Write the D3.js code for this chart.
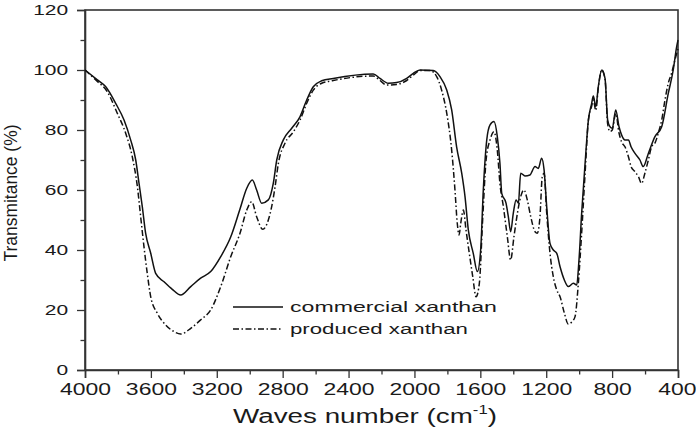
<!DOCTYPE html>
<html>
<head>
<meta charset="utf-8">
<script src="https://cdn.jsdelivr.net/npm/d3@7"></script>
<style>
  html, body { margin: 0; padding: 0; background: #fff; }
  svg { display: block; }
  text { font-family: "Liberation Sans", Arial, sans-serif; fill: #1a1a1a; }
</style>
</head>
<body>
<svg id="chart" width="696" height="434"></svg>
<script>
// ---- data ----
const xTickValues = [4000, 3600, 3200, 2800, 2400, 2000, 1600, 1200, 800, 400];
const xMinorTicks = [3800, 3400, 3000, 2600, 2200, 1800, 1400, 1000, 600];
const yTickValues = [0, 20, 40, 60, 80, 100, 120];
const yMinorTicks = [10, 30, 50, 70, 90, 110];
const seriesNames = ["commercial xanthan", "produced xanthan"];

const commercialWn = [4000,3925,3874,3814,3763,3723,3692,3672,3652,3632,3601,3571,3520,3470,3419,3358,3298,3237,3176,3115,3060,3018,2984,2958,2927,2887,2857,2836,2796,2745,2695,2654,2614,2563,2493,2250,2209,2159,2108,2047,2007,1966,1886,1845,1804,1774,1744,1713,1693,1673,1643,1618,1598,1582,1561,1541,1517,1497,1481,1470,1444,1430,1416,1400,1383,1369,1355,1329,1299,1268,1248,1228,1213,1197,1177,1157,1136,1116,1090,1066,1035,1015,1001,985,964,944,924,914,899,884,863,843,827,813,799,778,758,742,722,701,685,661,631,611,580,540,499,459,429,408,400];
const commercialT = [100,96.7,94.4,88.9,83.3,76.7,70,62.2,54.4,45.6,38.9,32.2,29.4,26.9,25,27.8,30.6,32.8,37.8,44.4,53.5,60.6,63.3,60,55.6,56.7,62.2,70,76.7,80.6,84.4,90,94.4,96.4,97.2,98.7,97.2,95.6,95.8,97.2,98.9,100,99.8,97.8,93.3,86.7,74.4,65.6,57.8,46.7,38.9,32.8,40,60,76.7,81.7,82.8,77.8,68.9,58.9,55.6,51.1,46.1,52.2,56.7,55.6,65.6,64.7,65,67.8,67.2,70.6,66.7,54.4,42.2,40,38.9,34.4,30,27.8,28.9,28.3,36.7,52.2,68.9,83.3,88.9,91.3,87.8,94.4,100,97.2,83.3,81.1,80.6,86.7,81.1,78.3,76.7,76.7,74.4,72.2,70,67.8,72.2,77.8,81.1,92.2,100,107.8,110];

const producedWn = [4000,3925,3865,3804,3753,3713,3682,3662,3642,3622,3601,3561,3510,3460,3419,3358,3298,3237,3176,3115,3059,3018,2988,2958,2921,2887,2867,2846,2826,2786,2735,2695,2654,2614,2563,2493,2250,2209,2169,2108,2047,2007,1966,1905,1865,1835,1804,1774,1754,1740,1729,1719,1703,1687,1667,1646,1626,1606,1585,1565,1541,1517,1497,1481,1460,1436,1416,1396,1375,1355,1335,1315,1294,1268,1254,1238,1224,1213,1197,1177,1157,1136,1116,1090,1066,1045,1025,1005,985,964,944,924,914,899,884,863,843,827,813,799,778,758,742,722,701,685,661,640,621,601,580,560,540,520,499,479,459,439,419,400];
const producedT = [100,96.2,92.8,85.6,78.9,71.1,61.1,51.1,41.1,32.2,24.4,18.9,15,12.8,12,13.9,16.7,20,27.8,37.8,45.6,53.3,56.1,51.1,46.9,50,54.4,61.1,68.9,75.6,79.4,83.3,88.9,93.3,95.6,96.5,98,96.5,95,95.2,96.5,98.3,99.8,99.8,97.8,93.3,85.6,73.3,60,48.9,45,48.9,53.3,46.7,38.9,31.1,24.4,28.9,51.1,70,76.7,79.4,73.3,62.2,54.4,44.4,36.7,44.4,52.2,57.8,60,56.7,51.1,46.1,45.6,51.1,64.4,65.6,52.2,38.9,31.1,26.7,24.4,19,15.3,16,17.8,28.9,45.6,65.6,83.3,88,90,86.5,94,100,97,82,79.5,80,85.5,79,76,74.4,71.1,67.8,66.1,64.4,62.2,65.6,70,74.4,75.6,78.9,83.3,90,95.6,98.9,103.3,107];

// ---- layout ----
const W = 696, H = 434;
const margin = { left: 85, right: 18, top: 10, bottom: 64 };
const iw = W - margin.left - margin.right;
const ih = H - margin.top - margin.bottom;
const axisColor = "#333";

const svg = d3.select("#chart");
const g = svg.append("g").attr("transform", `translate(${margin.left},${margin.top})`);

const x = d3.scaleLinear().domain([4000, 400]).range([0, iw]);
const y = d3.scaleLinear().domain([0, 120]).range([ih, 0]);

// frame
g.append("rect").attr("x", 0).attr("y", 0).attr("width", iw).attr("height", ih)
  .attr("fill", "none").attr("stroke", axisColor).attr("stroke-width", 1.6);

// x axis
const xAxis = g.append("g").attr("transform", `translate(0,${ih})`)
  .call(d3.axisBottom(x).tickValues(xTickValues).tickSize(8).tickPadding(5).tickFormat(d3.format("d")));
xAxis.select(".domain").attr("stroke", axisColor).attr("stroke-width", 1.6);
xAxis.selectAll(".tick line").attr("stroke", axisColor).attr("stroke-width", 1.3);
xAxis.selectAll("text").attr("font-size", 17).attr("fill", "#1a1a1a")
  .attr("font-family", "'Liberation Sans', Arial, sans-serif")
  .attr("transform", "scale(1.35,1)");
// keep the last label inside the window
xAxis.selectAll(".tick").filter(d => d === 400).select("text")
  .attr("text-anchor", "end").attr("x", 18 / 1.35);

const xMinor = g.append("g").attr("transform", `translate(0,${ih})`)
  .call(d3.axisBottom(x).tickValues(xMinorTicks).tickSize(4.5).tickFormat(""));
xMinor.select(".domain").remove();
xMinor.selectAll(".tick line").attr("stroke", axisColor).attr("stroke-width", 1.3);

// y axis
const yAxis = g.append("g")
  .call(d3.axisLeft(y).tickValues(yTickValues).tickSize(8).tickPadding(4).tickFormat(d3.format("d")));
yAxis.select(".domain").attr("stroke", axisColor).attr("stroke-width", 1.6);
yAxis.selectAll(".tick line").attr("stroke", axisColor).attr("stroke-width", 1.3);
yAxis.selectAll("text").attr("font-size", 15).attr("fill", "#1a1a1a")
  .attr("font-family", "'Liberation Sans', Arial, sans-serif")
  .attr("transform", "scale(1.4,1)");
const yMinor = g.append("g")
  .call(d3.axisLeft(y).tickValues(yMinorTicks).tickSize(4.5).tickFormat(""));
yMinor.select(".domain").remove();
yMinor.selectAll(".tick line").attr("stroke", axisColor).attr("stroke-width", 1.3);

// lines
const commercial = commercialWn.map((w, i) => [w, commercialT[i]]);
const produced = producedWn.map((w, i) => [w, producedT[i]]);
const line = d3.line().x(d => x(d[0])).y(d => y(d[1])).curve(d3.curveMonotoneX);
const dashPattern = "6,2.5,1.5,2.5";

g.append("path").datum(produced).attr("d", line)
  .attr("fill", "none").attr("stroke", "#111").attr("stroke-width", 1.5)
  .attr("stroke-dasharray", dashPattern);
g.append("path").datum(commercial).attr("d", line)
  .attr("fill", "none").attr("stroke", "#111").attr("stroke-width", 1.5);

// helper: stretch a text horizontally to a target width
function fitWidth(sel, target, tx, ty) {
  const w = sel.node().getComputedTextLength();
  const sx = target / w;
  sel.attr("transform", `translate(${tx},${ty}) scale(${sx},1)`);
}

// legend
const legendItems = [
  { name: seriesNames[0], dash: null, ly: 307, ty: 312, tw: 207 },
  { name: seriesNames[1], dash: dashPattern, ly: 329, ty: 333.5, tw: 178 }
];
legendItems.forEach(it => {
  svg.append("line").attr("x1", 233).attr("x2", 283).attr("y1", it.ly).attr("y2", it.ly)
    .attr("stroke", "#111").attr("stroke-width", 1.5)
    .attr("stroke-dasharray", it.dash);
  const t = svg.append("text").attr("x", 0).attr("y", 0).attr("font-size", 15).text(it.name);
  fitWidth(t, it.tw, 290, it.ty);
});

// x title
const xt = svg.append("text").attr("x", 0).attr("y", 0).attr("font-size", 20).attr("text-anchor", "middle");
xt.append("tspan").text("Waves number (cm");
xt.append("tspan").attr("font-size", 12).attr("dy", -9).text("-1");
xt.append("tspan").attr("dy", 9).text(")");
fitWidth(xt, 264, 365, 423);

// y title
const yt = svg.append("text").attr("x", 0).attr("y", 0).attr("font-size", 17.5).attr("text-anchor", "middle")
  .text("Transmitance (%)");
{
  const w = yt.node().getComputedTextLength();
  const sx = 137 / w;
  yt.attr("transform", `translate(17,193) rotate(-90) scale(${sx},1.1)`);
}
</script>
</body>
</html>
